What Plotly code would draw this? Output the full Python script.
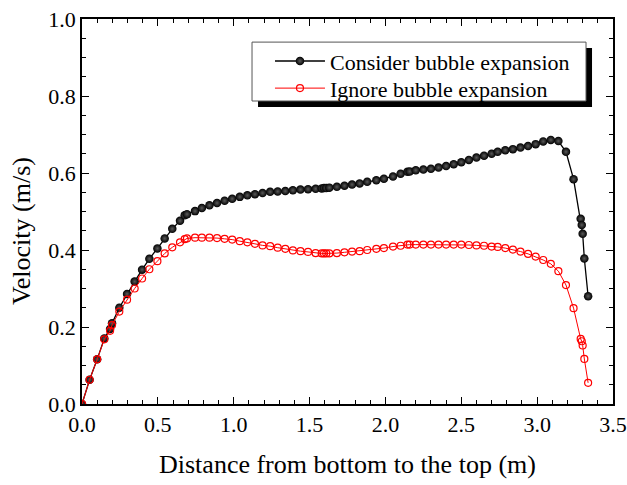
import plotly.graph_objects as go

distance = [0.0, 0.05, 0.10, 0.147, 0.185, 0.198, 0.246, 0.297, 0.347, 0.396,
            0.444, 0.497, 0.545, 0.595, 0.646, 0.677, 0.692, 0.745, 0.79, 0.84,
            0.89, 0.94, 0.99, 1.04, 1.09, 1.14, 1.19, 1.24, 1.29, 1.34,
            1.39, 1.44, 1.49, 1.54, 1.58, 1.595, 1.61, 1.63, 1.68, 1.73,
            1.78, 1.83, 1.88, 1.94, 1.99, 2.05, 2.10, 2.145, 2.16, 2.20,
            2.25, 2.30, 2.35, 2.40, 2.45, 2.50, 2.55, 2.60, 2.65, 2.70,
            2.74, 2.79, 2.84, 2.89, 2.94, 2.99, 3.04, 3.09, 3.14, 3.19,
            3.24, 3.287, 3.294, 3.30, 3.311, 3.336]

vel_consider = [0.0, 0.063, 0.116, 0.17, 0.195, 0.21, 0.25, 0.286, 0.318, 0.349,
                0.377, 0.404, 0.43, 0.455, 0.476, 0.49, 0.493, 0.501, 0.509, 0.516,
                0.522, 0.528, 0.533, 0.538, 0.542, 0.545, 0.548, 0.551, 0.552, 0.553,
                0.555, 0.557, 0.558, 0.559, 0.560, 0.561, 0.561, 0.562, 0.564, 0.567,
                0.570, 0.573, 0.577, 0.581, 0.585, 0.591, 0.598, 0.603, 0.604, 0.607,
                0.609, 0.611, 0.614, 0.618, 0.623, 0.628, 0.634, 0.640, 0.645, 0.650,
                0.655, 0.659, 0.662, 0.666, 0.670, 0.675, 0.682, 0.686, 0.683, 0.655,
                0.584, 0.481, 0.465, 0.442, 0.378, 0.280]

vel_ignore = [0.0, 0.063, 0.116, 0.168, 0.19, 0.205, 0.24, 0.271, 0.30, 0.326,
              0.35, 0.371, 0.391, 0.407, 0.42, 0.428, 0.43, 0.432, 0.432, 0.432,
              0.431, 0.429, 0.427, 0.423, 0.42, 0.416, 0.412, 0.41, 0.406, 0.403,
              0.399, 0.397, 0.395, 0.392, 0.391, 0.391, 0.391, 0.391, 0.392, 0.394,
              0.396, 0.397, 0.400, 0.403, 0.405, 0.409, 0.411, 0.414, 0.414, 0.414,
              0.414, 0.414, 0.414, 0.414, 0.414, 0.414, 0.413, 0.412, 0.411, 0.409,
              0.408, 0.405, 0.401, 0.396, 0.390, 0.383, 0.374, 0.364, 0.345, 0.309,
              0.249, 0.169, 0.163, 0.152, 0.117, 0.055]

series_names = ["Consider bubble expansion", "Ignore bubble expansion"]
x_title = "Distance from bottom to the top (m)"
y_title = "Velocity (m/s)"

FONT = "Liberation Serif, Times New Roman, serif"

fig = go.Figure()
fig.add_trace(go.Scatter(
    x=distance, y=vel_consider, name=series_names[0], mode="lines+markers",
    line=dict(color="black", width=1.3),
    marker=dict(symbol="circle", size=8.5, color="black",
                gradient=dict(type="radial", color="#5a5a5a"),
                line=dict(width=0)),
    legend="legend",
))
fig.add_trace(go.Scatter(
    x=distance, y=vel_ignore, name=series_names[1], mode="lines+markers",
    line=dict(color="#ff0000", width=1),
    marker=dict(symbol="circle-open", size=7, color="#ff0000",
                line=dict(width=1.2, color="#ff0000")),
    legend="legend2",
))

axis_common = dict(
    showline=True, linecolor="black", linewidth=1.5, mirror="allticks",
    ticks="inside", ticklen=7, tickwidth=1.3, tickcolor="black",
    showgrid=False, zeroline=False, automargin=False,
    tickfont=dict(family=FONT, size=22, color="black"),
)

fig.update_xaxes(range=[0, 3.5], dtick=0.5, tick0=0, tickformat=".1f",
                 minor=dict(dtick=0.1, ticks="inside", ticklen=4, tickcolor="black", tickwidth=1.2),
                 **axis_common)
fig.update_yaxes(range=[0, 1.0], dtick=0.2, tick0=0, tickformat=".1f",
                 minor=dict(dtick=0.05, ticks="inside", ticklen=4, tickcolor="black", tickwidth=1.2),
                 **axis_common)

fig.add_annotation(text=x_title, xref="paper", yref="paper", x=0.5, y=-0.158,
                   xanchor="center", yanchor="middle", showarrow=False,
                   font=dict(family=FONT, size=26, color="black"))
fig.add_annotation(text=y_title, xref="paper", yref="paper", x=-0.1149, y=0.449,
                   xanchor="center", yanchor="middle", showarrow=False, textangle=-90,
                   font=dict(family=FONT, size=26, color="black"))

# legend box with drop shadow
bx0, bx1, by0, by1 = 0.3202, 0.9492, 0.787, 0.940
fig.add_shape(type="rect", xref="paper", yref="paper",
              x0=bx0 + 0.0113, x1=bx1 + 0.0113, y0=by0 - 0.0156, y1=by1 - 0.0156,
              fillcolor="black", line=dict(width=0), layer="above")
fig.add_shape(type="rect", xref="paper", yref="paper",
              x0=bx0, x1=bx1, y0=by0, y1=by1,
              fillcolor="white", line=dict(width=1, color="#555555"), layer="above")

legend_common = dict(xanchor="left", yanchor="top", bgcolor="rgba(0,0,0,0)", borderwidth=0,
                     font=dict(family=FONT, size=22, color="black"),
                     itemwidth=50, tracegroupgap=0)

fig.update_layout(
    width=627, height=485,
    margin=dict(l=82, r=14, t=19, b=81, autoexpand=False),
    plot_bgcolor="white", paper_bgcolor="white",
    font=dict(family=FONT, color="black"),
    legend=dict(x=0.354, y=0.945, **legend_common),
    legend2=dict(x=0.354, y=0.8745, **legend_common),
    showlegend=True,
)

fig.write_html("out.html", config={"displayModeBar": False},
               post_script="document.body.style.margin='0';document.body.style.padding='0';")
